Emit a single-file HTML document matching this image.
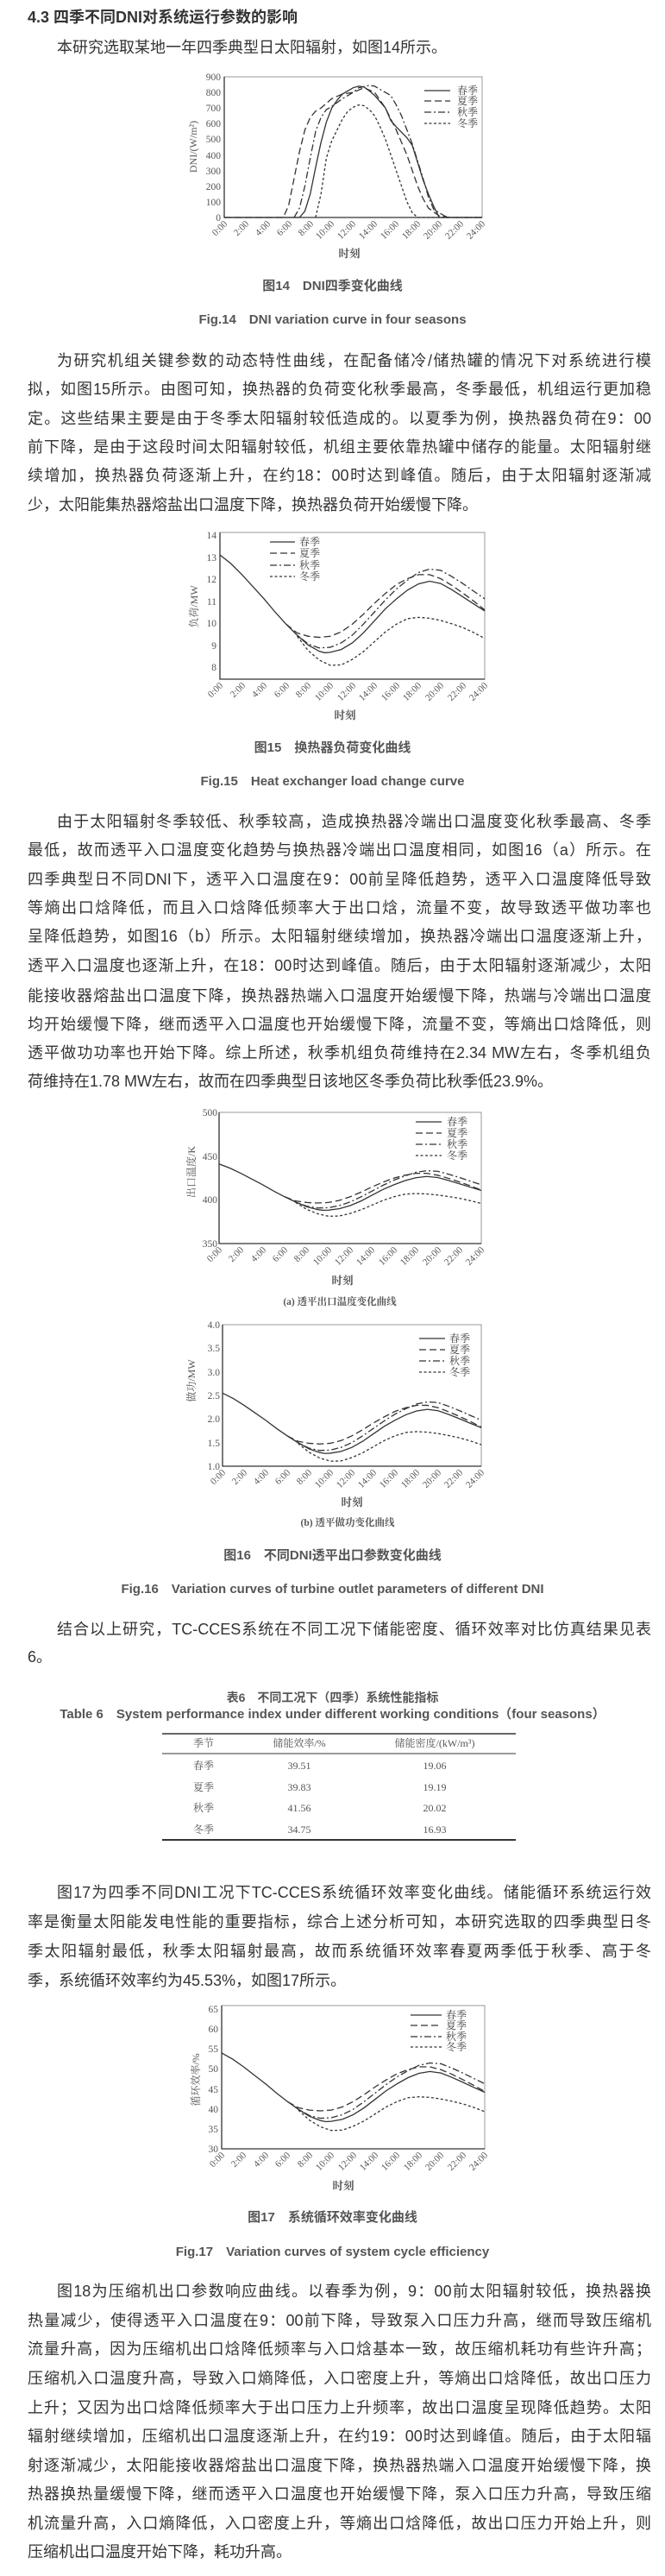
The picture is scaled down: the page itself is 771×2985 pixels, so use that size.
<!DOCTYPE html>
<html><head><meta charset="utf-8">
<style>
*{margin:0;padding:0}
body{width:771px;height:2985px;position:relative;background:#fff;overflow:hidden;font-family:"Liberation Sans","Noto Sans CJK SC",sans-serif;color:#333}
.l{position:absolute;left:32px;width:723px;height:33px;line-height:33px;font-size:18px;text-align:justify;text-align-last:justify;white-space:nowrap}
.i{left:66px;width:689px}
.e{text-align-last:left}
.c{position:absolute;left:0;width:771px;text-align:center;font-weight:bold;color:#555;font-size:15px;line-height:20px;white-space:nowrap}
svg{position:absolute;left:0;top:0}
</style></head><body>
<div style="position:absolute;left:32px;top:8px;font-size:18px;font-weight:bold;color:#333;line-height:24px;white-space:nowrap">4.3 四季不同DNI对系统运行参数的影响</div>
<div class="l i e" style="top:39px">本研究选取某地一年四季典型日太阳辐射，如图14所示。</div>

<div class="c" style="top:322px">图14　DNI四季变化曲线</div>
<div class="c" style="top:361px">Fig.14　DNI variation curve in four seasons</div>

<div class="l i" style="top:402px">为研究机组关键参数的动态特性曲线，在配备储冷/储热罐的情况下对系统进行模</div>
<div class="l" style="top:435px">拟，如图15所示。由图可知，换热器的负荷变化秋季最高，冬季最低，机组运行更加稳</div>
<div class="l" style="top:469px">定。这些结果主要是由于冬季太阳辐射较低造成的。以夏季为例，换热器负荷在9：00</div>
<div class="l" style="top:502px">前下降，是由于这段时间太阳辐射较低，机组主要依靠热罐中储存的能量。太阳辐射继</div>
<div class="l" style="top:535px">续增加，换热器负荷逐渐上升，在约18：00时达到峰值。随后，由于太阳辐射逐渐减</div>
<div class="l e" style="top:569px">少，太阳能集热器熔盐出口温度下降，换热器负荷开始缓慢下降。</div>

<div class="c" style="top:857px">图15　换热器负荷变化曲线</div>
<div class="c" style="top:896px">Fig.15　Heat exchanger load change curve</div>

<div class="l i" style="top:936px">由于太阳辐射冬季较低、秋季较高，造成换热器冷端出口温度变化秋季最高、冬季</div>
<div class="l" style="top:969px">最低，故而透平入口温度变化趋势与换热器冷端出口温度相同，如图16（a）所示。在</div>
<div class="l" style="top:1003px">四季典型日不同DNI下，透平入口温度在9：00前呈降低趋势，透平入口温度降低导致</div>
<div class="l" style="top:1036px">等熵出口焓降低，而且入口焓降低频率大于出口焓，流量不变，故导致透平做功率也</div>
<div class="l" style="top:1069px">呈降低趋势，如图16（b）所示。太阳辐射继续增加，换热器冷端出口温度逐渐上升，</div>
<div class="l" style="top:1103px">透平入口温度也逐渐上升，在18：00时达到峰值。随后，由于太阳辐射逐渐减少，太阳</div>
<div class="l" style="top:1138px">能接收器熔盐出口温度下降，换热器热端入口温度开始缓慢下降，热端与冷端出口温度</div>
<div class="l" style="top:1171px">均开始缓慢下降，继而透平入口温度也开始缓慢下降，流量不变，等熵出口焓降低，则</div>
<div class="l" style="top:1204px">透平做功功率也开始下降。综上所述，秋季机组负荷维持在2.34 MW左右，冬季机组负</div>
<div class="l e" style="top:1237px">荷维持在1.78 MW左右，故而在四季典型日该地区冬季负荷比秋季低23.9%。</div>

<div class="c" style="top:1793px">图16　不同DNI透平出口参数变化曲线</div>
<div class="c" style="top:1832px">Fig.16　Variation curves of turbine outlet parameters of different DNI</div>

<div class="l i" style="top:1872px">结合以上研究，TC-CCES系统在不同工况下储能密度、循环效率对比仿真结果见表</div>
<div class="l e" style="top:1904px">6。</div>

<div class="c" style="top:1957px;font-size:14px">表6　不同工况下（四季）系统性能指标</div>
<div class="c" style="top:1977px">Table 6　System performance index under different working conditions（four seasons）</div>

<div class="l i" style="top:2177px">图17为四季不同DNI工况下TC-CCES系统循环效率变化曲线。储能循环系统运行效</div>
<div class="l" style="top:2211px">率是衡量太阳能发电性能的重要指标，综合上述分析可知，本研究选取的四季典型日冬</div>
<div class="l" style="top:2245px">季太阳辐射最低，秋季太阳辐射最高，故而系统循环效率春夏两季低于秋季、高于冬</div>
<div class="l e" style="top:2279px">季，系统循环效率约为45.53%，如图17所示。</div>

<div class="c" style="top:2560px">图17　系统循环效率变化曲线</div>
<div class="c" style="top:2600px">Fig.17　Variation curves of system cycle efficiency</div>

<div class="l i" style="top:2639px">图18为压缩机出口参数响应曲线。以春季为例，9：00前太阳辐射较低，换热器换</div>
<div class="l" style="top:2673px">热量减少，使得透平入口温度在9：00前下降，导致泵入口压力升高，继而导致压缩机</div>
<div class="l" style="top:2706px">流量升高，因为压缩机出口焓降低频率与入口焓基本一致，故压缩机耗功有些许升高；</div>
<div class="l" style="top:2740px">压缩机入口温度升高，导致入口熵降低，入口密度上升，等熵出口焓降低，故出口压力</div>
<div class="l" style="top:2774px">上升；又因为出口焓降低频率大于出口压力上升频率，故出口温度呈现降低趋势。太阳</div>
<div class="l" style="top:2807px">辐射继续增加，压缩机出口温度逐渐上升，在约19：00时达到峰值。随后，由于太阳辐</div>
<div class="l" style="top:2841px">射逐渐减少，太阳能接收器熔盐出口温度下降，换热器热端入口温度开始缓慢下降，换</div>
<div class="l" style="top:2874px">热器换热量缓慢下降，继而透平入口温度也开始缓慢下降，泵入口压力升高，导致压缩</div>
<div class="l" style="top:2908px">机流量升高，入口熵降低，入口密度上升，等熵出口焓降低，故出口压力开始上升，则</div>
<div class="l e" style="top:2941px">压缩机出口温度开始下降，耗功升高。</div>

<svg width="771" height="2985" viewBox="0 0 771 2985" font-family="Liberation Serif, Noto Serif CJK SC, serif" font-size="11.5" fill="#555">
<defs>
<polyline id="sp" fill="none" vector-effect="non-scaling-stroke" points="0,13.1 1,12.7 2,12.2 3,11.65 4,11.1 5,10.5 6,9.95 7,9.45 8,9.0 9,8.72 9.5,8.65 10,8.67 11,8.8 12,9.1 13,9.55 14,10.1 15,10.65 16,11.1 17,11.5 18,11.78 19,11.9 20,11.8 21,11.52 22,11.2 23,10.87 24,10.55"/>
<polyline id="su" fill="none" vector-effect="non-scaling-stroke" points="6,9.95 7,9.55 8,9.4 9,9.35 10,9.4 11,9.6 12,9.95 13,10.4 14,10.9 15,11.35 16,11.75 17,12.02 18,12.2 19,12.2 20,12.02 21,11.72 22,11.37 23,11.0 24,10.6"/>
<polyline id="au" fill="none" vector-effect="non-scaling-stroke" points="6.5,9.7 7,9.45 8,9.05 9,8.87 10,8.9 11,9.1 12,9.45 13,9.95 14,10.5 15,11.05 16,11.55 17,11.95 18,12.3 19,12.45 20,12.4 21,12.12 22,11.8 23,11.45 24,11.1"/>
<polyline id="wi" fill="none" vector-effect="non-scaling-stroke" points="7,9.4 8,8.75 9,8.32 10,8.08 11,8.1 12,8.35 13,8.7 14,9.15 15,9.6 16,9.95 17,10.2 18,10.26 19,10.22 20,10.12 21,9.97 22,9.8 23,9.57 24,9.3"/>
</defs>
<g fill="none" stroke="#333" stroke-width="1.3">
<!-- Fig14 -->
<rect x="260" y="89" width="299" height="163" stroke="#999" stroke-width="1"/>
<path d="M260 89V252H559" stroke="#333"/>
<g transform="translate(260,252) scale(12.46,-0.1811)">
<polyline vector-effect="non-scaling-stroke" points="0,0 7,0 7.5,40 8,150 8.5,320 9,480 9.5,610 10,700 10.5,750 11,790 12,830 12.5,840 13,835 13.5,810 14,780 15,700 15.5,620 16,580 17,510 17.5,460 18,350 18.5,240 19,150 19.5,70 20,0 24,0"/>
<polyline vector-effect="non-scaling-stroke" stroke-dasharray="8 4" points="0,0 5.5,0 6,80 6.5,250 7,420 7.5,560 8,640 8.5,680 9,700 10,760 11,790 12,800 13,830 14,800 15,700 16,560 16.5,480 17,400 17.5,300 18,200 18.5,120 19,60 20,10 21,0 24,0"/>
<polyline vector-effect="non-scaling-stroke" stroke-dasharray="8 3 2 3" points="6.5,0 7,60 7.5,200 8,380 8.5,550 9,640 9.5,690 10,710 11,760 12,800 12.5,830 13.5,845 14,840 15,800 15.5,780 16,720 16.5,650 17,560 17.5,470 18,360 18.5,250 19,130 19.5,50 20.5,10 21,0"/>
<polyline vector-effect="non-scaling-stroke" stroke-dasharray="3 2.5" points="8.5,0 9,150 9.5,380 10,490 10.5,560 11,630 11.5,680 12,705 12.5,720 13,715 13.5,690 14,650 14.5,580 15,500 15.5,400 16,300 16.5,200 17,100 17.5,30 18,0 24,0"/>
</g>
<line x1="492" y1="105" x2="522" y2="105"/><line x1="492" y1="117" x2="522" y2="117" stroke-dasharray="8 4"/><line x1="492" y1="130" x2="522" y2="130" stroke-dasharray="8 3 2 3"/><line x1="492" y1="143" x2="522" y2="143" stroke-dasharray="3 2.5"/>

<!-- Fig15 -->
<rect x="255" y="617" width="307" height="170" stroke="#999" stroke-width="1"/>
<path d="M255 617V787H562" stroke="#333"/>
<g transform="translate(255,977) scale(12.79,-25.5)">
<use href="#sp"/><use href="#su" stroke-dasharray="8 4"/><use href="#au" stroke-dasharray="8 3 2 3"/><use href="#wi" stroke-dasharray="3 2.5"/>
</g>
<line x1="313" y1="628" x2="342" y2="628"/><line x1="313" y1="641" x2="342" y2="641" stroke-dasharray="8 4"/><line x1="313" y1="655" x2="342" y2="655" stroke-dasharray="8 3 2 3"/><line x1="313" y1="668" x2="342" y2="668" stroke-dasharray="3 2.5"/>

<!-- Fig16a -->
<rect x="254" y="1289" width="304" height="152" stroke="#999" stroke-width="1"/>
<path d="M254 1289V1441H558" stroke="#333"/>
<g transform="translate(254,1795.65) scale(12.67,-1.0133) translate(0,285.1) scale(1,11.9)">
<use href="#sp"/><use href="#su" stroke-dasharray="8 4"/><use href="#au" stroke-dasharray="8 3 2 3"/><use href="#wi" stroke-dasharray="3 2.5"/>
</g>
<line x1="482" y1="1300" x2="512" y2="1300"/><line x1="482" y1="1313" x2="512" y2="1313" stroke-dasharray="8 4"/><line x1="482" y1="1326" x2="512" y2="1326" stroke-dasharray="8 3 2 3"/><line x1="482" y1="1339" x2="512" y2="1339" stroke-dasharray="3 2.5"/>

<!-- Fig16b -->
<rect x="258" y="1535" width="300" height="164" stroke="#999" stroke-width="1"/>
<path d="M258 1535V1699H558" stroke="#333"/>
<g transform="translate(258,1753.67) scale(12.5,-54.67) translate(0,-1.218) scale(1,0.2876)">
<use href="#sp"/><use href="#su" stroke-dasharray="8 4"/><use href="#au" stroke-dasharray="8 3 2 3"/><use href="#wi" stroke-dasharray="3 2.5"/>
</g>
<line x1="486" y1="1551" x2="516" y2="1551"/><line x1="486" y1="1564" x2="516" y2="1564" stroke-dasharray="8 4"/><line x1="486" y1="1577" x2="516" y2="1577" stroke-dasharray="8 3 2 3"/><line x1="486" y1="1590" x2="516" y2="1590" stroke-dasharray="3 2.5"/>

<!-- Fig17 -->
<rect x="257" y="2324" width="305" height="166" stroke="#999" stroke-width="1"/>
<path d="M257 2324V2490H562" stroke="#333"/>
<g transform="translate(257,2628.87) scale(12.71,-4.629) translate(0,3.37) scale(1,3.865)">
<use href="#sp"/><use href="#su" stroke-dasharray="8 4"/><use href="#au" stroke-dasharray="8 3 2 3"/><use href="#wi" stroke-dasharray="3 2.5"/>
</g>
<line x1="476" y1="2335" x2="512" y2="2335"/><line x1="476" y1="2347" x2="512" y2="2347" stroke-dasharray="8 4"/><line x1="476" y1="2360" x2="512" y2="2360" stroke-dasharray="8 3 2 3"/><line x1="476" y1="2372" x2="512" y2="2372" stroke-dasharray="3 2.5"/>

<!-- table -->
<line x1="188" y1="2009" x2="598" y2="2009" stroke-width="1.5"/>
<line x1="188" y1="2032" x2="598" y2="2032" stroke-width="1"/>
<line x1="188" y1="2132" x2="598" y2="2132" stroke-width="2"/>
</g>

<!-- legends text -->
<g font-size="12" fill="#444">
<text x="530" y="109">春季</text><text x="530" y="121">夏季</text><text x="530" y="134">秋季</text><text x="530" y="147">冬季</text>
<text x="347" y="632">春季</text><text x="347" y="645">夏季</text><text x="347" y="659">秋季</text><text x="347" y="672">冬季</text>
<text x="518" y="1304">春季</text><text x="518" y="1317">夏季</text><text x="518" y="1330">秋季</text><text x="518" y="1343">冬季</text>
<text x="521" y="1555">春季</text><text x="521" y="1568">夏季</text><text x="521" y="1581">秋季</text><text x="521" y="1594">冬季</text>
<text x="517" y="2339">春季</text><text x="517" y="2351">夏季</text><text x="517" y="2364">秋季</text><text x="517" y="2376">冬季</text>
</g>

<!-- y tick labels -->
<g text-anchor="end">
<text x="256" y="256">0</text><text x="256" y="238">100</text><text x="256" y="220">200</text><text x="256" y="202">300</text><text x="256" y="184">400</text><text x="256" y="165">500</text><text x="256" y="147">600</text><text x="256" y="129">700</text><text x="256" y="111">800</text><text x="256" y="93">900</text>
<text x="251" y="777">8</text><text x="251" y="752">9</text><text x="251" y="726">10</text><text x="251" y="701">11</text><text x="251" y="675">12</text><text x="251" y="650">13</text><text x="251" y="624">14</text>
<text x="252" y="1445">350</text><text x="252" y="1394">400</text><text x="252" y="1344">450</text><text x="252" y="1293">500</text>
<text x="255" y="1703">1.0</text><text x="255" y="1676">1.5</text><text x="255" y="1648">2.0</text><text x="255" y="1621">2.5</text><text x="255" y="1594">3.0</text><text x="255" y="1566">3.5</text><text x="255" y="1539">4.0</text>
<text x="253" y="2494">30</text><text x="253" y="2471">35</text><text x="253" y="2448">40</text><text x="253" y="2425">45</text><text x="253" y="2401">50</text><text x="253" y="2378">55</text><text x="253" y="2355">60</text><text x="253" y="2332">65</text>
</g>

<!-- y axis titles -->
<g text-anchor="middle" font-size="12" fill="#555">
<text transform="translate(228,170) rotate(-90)">DNI/(W/m²)</text>
<text transform="translate(229,703) rotate(-90)">负荷/MW</text>
<text transform="translate(226,1358) rotate(-90)">出口温度/K</text>
<text transform="translate(226,1600) rotate(-90)">做功/MW</text>
<text transform="translate(231,2410) rotate(-90)">循环效率/%</text>
</g>

<!-- x tick labels -->
<g text-anchor="end" font-size="11">
<g transform="translate(4,260)">
<text transform="translate(260,0) rotate(-45)">0:00</text><text transform="translate(285,0) rotate(-45)">2:00</text><text transform="translate(310,0) rotate(-45)">4:00</text><text transform="translate(335,0) rotate(-45)">6:00</text><text transform="translate(360,0) rotate(-45)">8:00</text><text transform="translate(384,0) rotate(-45)">10:00</text><text transform="translate(409,0) rotate(-45)">12:00</text><text transform="translate(434,0) rotate(-45)">14:00</text><text transform="translate(459,0) rotate(-45)">16:00</text><text transform="translate(484,0) rotate(-45)">18:00</text><text transform="translate(509,0) rotate(-45)">20:00</text><text transform="translate(534,0) rotate(-45)">22:00</text><text transform="translate(559,0) rotate(-45)">24:00</text>
</g>
<g transform="translate(4,795)">
<text transform="translate(255,0) rotate(-45)">0:00</text><text transform="translate(281,0) rotate(-45)">2:00</text><text transform="translate(306,0) rotate(-45)">4:00</text><text transform="translate(332,0) rotate(-45)">6:00</text><text transform="translate(357,0) rotate(-45)">8:00</text><text transform="translate(383,0) rotate(-45)">10:00</text><text transform="translate(409,0) rotate(-45)">12:00</text><text transform="translate(434,0) rotate(-45)">14:00</text><text transform="translate(460,0) rotate(-45)">16:00</text><text transform="translate(485,0) rotate(-45)">18:00</text><text transform="translate(511,0) rotate(-45)">20:00</text><text transform="translate(537,0) rotate(-45)">22:00</text><text transform="translate(562,0) rotate(-45)">24:00</text>
</g>
<g transform="translate(4,1449)">
<text transform="translate(254,0) rotate(-45)">0:00</text><text transform="translate(279,0) rotate(-45)">2:00</text><text transform="translate(305,0) rotate(-45)">4:00</text><text transform="translate(330,0) rotate(-45)">6:00</text><text transform="translate(355,0) rotate(-45)">8:00</text><text transform="translate(381,0) rotate(-45)">10:00</text><text transform="translate(406,0) rotate(-45)">12:00</text><text transform="translate(431,0) rotate(-45)">14:00</text><text transform="translate(457,0) rotate(-45)">16:00</text><text transform="translate(482,0) rotate(-45)">18:00</text><text transform="translate(508,0) rotate(-45)">20:00</text><text transform="translate(533,0) rotate(-45)">22:00</text><text transform="translate(558,0) rotate(-45)">24:00</text>
</g>
<g transform="translate(4,1707)">
<text transform="translate(258,0) rotate(-45)">0:00</text><text transform="translate(283,0) rotate(-45)">2:00</text><text transform="translate(308,0) rotate(-45)">4:00</text><text transform="translate(333,0) rotate(-45)">6:00</text><text transform="translate(358,0) rotate(-45)">8:00</text><text transform="translate(383,0) rotate(-45)">10:00</text><text transform="translate(408,0) rotate(-45)">12:00</text><text transform="translate(433,0) rotate(-45)">14:00</text><text transform="translate(458,0) rotate(-45)">16:00</text><text transform="translate(483,0) rotate(-45)">18:00</text><text transform="translate(508,0) rotate(-45)">20:00</text><text transform="translate(533,0) rotate(-45)">22:00</text><text transform="translate(558,0) rotate(-45)">24:00</text>
</g>
<g transform="translate(4,2498)">
<text transform="translate(257,0) rotate(-45)">0:00</text><text transform="translate(282,0) rotate(-45)">2:00</text><text transform="translate(308,0) rotate(-45)">4:00</text><text transform="translate(333,0) rotate(-45)">6:00</text><text transform="translate(359,0) rotate(-45)">8:00</text><text transform="translate(384,0) rotate(-45)">10:00</text><text transform="translate(410,0) rotate(-45)">12:00</text><text transform="translate(435,0) rotate(-45)">14:00</text><text transform="translate(460,0) rotate(-45)">16:00</text><text transform="translate(486,0) rotate(-45)">18:00</text><text transform="translate(511,0) rotate(-45)">20:00</text><text transform="translate(537,0) rotate(-45)">22:00</text><text transform="translate(562,0) rotate(-45)">24:00</text>
</g>
</g>

<!-- x axis titles and subcaptions -->
<g text-anchor="middle" font-size="12.5" fill="#555" font-weight="bold">
<text x="405" y="298">时刻</text>
<text x="400" y="833">时刻</text>
<text x="397" y="1488">时刻</text>
<text x="408" y="1745">时刻</text>
<text x="398" y="2537">时刻</text>
<text x="394" y="1512" font-size="11.5">(a) 透平出口温度变化曲线</text>
<text x="403" y="1768" font-size="11.5">(b) 透平做功变化曲线</text>
</g>

<!-- table text -->
<g text-anchor="middle" font-size="12" fill="#555">
<text x="236" y="2024">季节</text><text x="347" y="2024">储能效率/%</text><text x="504" y="2024">储能密度/(kW/m³)</text>
<text x="236" y="2050">春季</text><text x="347" y="2050">39.51</text><text x="504" y="2050">19.06</text>
<text x="236" y="2075">夏季</text><text x="347" y="2075">39.83</text><text x="504" y="2075">19.19</text>
<text x="236" y="2099">秋季</text><text x="347" y="2099">41.56</text><text x="504" y="2099">20.02</text>
<text x="236" y="2124">冬季</text><text x="347" y="2124">34.75</text><text x="504" y="2124">16.93</text>
</g>
</svg>
</body></html>
